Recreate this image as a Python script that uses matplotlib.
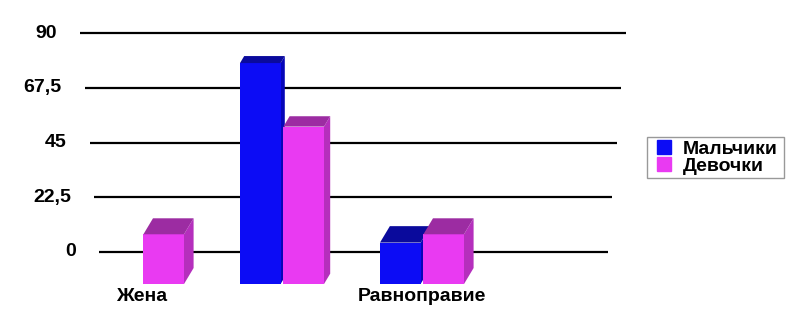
import matplotlib
matplotlib.use('Agg')
from matplotlib import pyplot as plt
from matplotlib.patches import Polygon
from matplotlib.lines import Line2D
import numpy as np

categories = ['Жена', '', 'Равноправие']
boys = [0, 80, 15]
girls = [18, 57, 18]
series_names = ['Мальчики', 'Девочки']
y_ticks = [0, 22.5, 45, 67.5, 90]
y_tick_labels = ['0', '22,5', '45', '67,5', '90']

W, H = 800, 321
# pixel anchors of the back wall (y) and category spacing (x)
x0_px, x_step = 142.0, 140.0
y0_px, y_scale = 252.0, (252.0 - 33.0) / 90.0
xlim = (-0.5, 3.5)
ylim = (-16.0, 92.0)

front_k = 1.135          # front plane is closer -> bigger
floor = -13.15           # front edge of the floor
offset, width = 0.155, 0.29

blue_front, blue_top, blue_side = '#0c0cf5', '#0a0a9c', '#0606b8'
pink_front, pink_top, pink_side = '#e93af2', '#9c2ca2', '#b52fbd'

plt.rcParams['font.family'] = ['Liberation Sans', 'DejaVu Sans']
plt.rcParams['font.weight'] = 'bold'

fig = plt.figure(figsize=(W / 100, H / 100), dpi=100)
left_px = x0_px + xlim[0] * x_step
right_px = x0_px + xlim[1] * x_step
bot_px = y0_px - ylim[0] * y_scale
top_px = y0_px - ylim[1] * y_scale
ax = fig.add_axes([left_px / W, 1 - bot_px / H, (right_px - left_px) / W, (bot_px - top_px) / H])
ax.set_xlim(*xlim)
ax.set_ylim(*ylim)
ax.axis('off')


def px_to_x(px):
    return (px - x0_px) / x_step


# back wall gridlines (slightly converging)
for v, lab in zip(y_ticks, y_tick_labels):
    l = px_to_x(99 - 0.211 * v)
    r = px_to_x(608 + 0.2 * v)
    ax.plot([l, r], [v, v], color='black', lw=1.6, zorder=1, solid_capstyle='butt')
    ax.text(l - 23 / x_step, v, lab, ha='right', va='center', fontsize=14, fontweight='bold')


def bar3d(xc, v, front, top, side):
    if v <= 0:
        return
    h = v * front_k
    ax.bar(xc, h, width=width, bottom=floor, color=front, lw=0, zorder=3)
    dy_px = 18.6 - 0.145 * v
    dy = dy_px / y_scale
    dx = 0.6 * dy_px / x_step
    xl, xr = xc - width / 2, xc + width / 2
    yt = floor + h
    ax.add_patch(Polygon([[xl, yt], [xr, yt], [xr + dx, yt + dy], [xl + dx, yt + dy]],
                         closed=True, color=top, lw=0, zorder=3))
    ax.add_patch(Polygon([[xr, floor], [xr, yt], [xr + dx, yt + dy], [xr + dx, floor + dy]],
                         closed=True, color=side, lw=0, zorder=2.9))


x = np.arange(len(categories))
for i in x:
    bar3d(i - offset, boys[i], blue_front, blue_top, blue_side)
    bar3d(i + offset, girls[i], pink_front, pink_top, pink_side)

for i, c in zip(x, categories):
    ax.text(i, floor - 5.2, c, ha='center', va='center', fontsize=14, fontweight='bold')

handles = [Line2D([], [], ls='none', marker='s', markersize=10, color=blue_front),
           Line2D([], [], ls='none', marker='s', markersize=10, color=pink_front)]
leg = fig.legend(handles, series_names, loc='upper left', mode='expand',
                 bbox_to_anchor=(647 / W, 1 - 177 / H, 137 / W, 40 / H),
                 frameon=True, fancybox=False, edgecolor='#808080', fontsize=14,
                 handlelength=1.4, handletextpad=0.3, labelspacing=0.0,
                 borderpad=0.15, borderaxespad=0)
leg.get_frame().set_linewidth(1)

fig.savefig('out.png', dpi=100)
